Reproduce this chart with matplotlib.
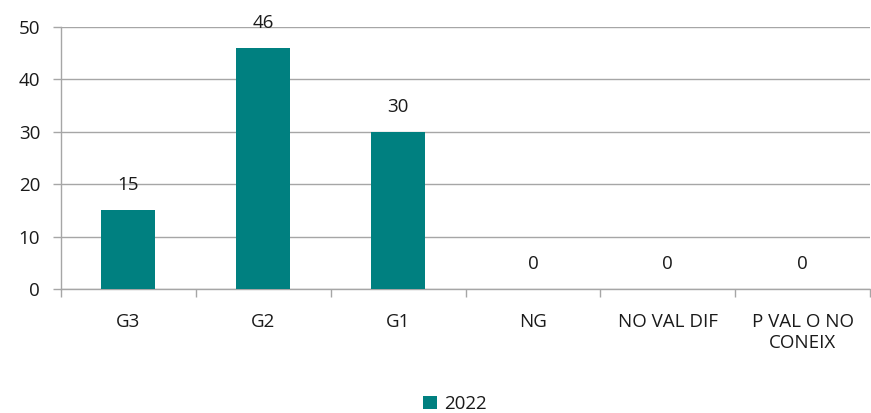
import matplotlib
matplotlib.use("Agg")
import matplotlib.pyplot as plt
import numpy as np

categories = ["G3", "G2", "G1", "NG", "NO VAL DIF", "P VAL O NO\nCONEIX"]
values_2022 = [15, 46, 30, 0, 0, 0]
series_name = "2022"

plt.rcParams['font.family'] = ['Open Sans', 'DejaVu Sans']

fig = plt.figure(figsize=(8.71, 4.13), dpi=100)
ax = fig.add_axes([61/871, 1-289/413, 809/871, (289-27)/413])

color = "#008080"
grid_c = "#a6a6a6"
txt_c = "#1a1a1a"
fs = 13.5
x = np.arange(len(categories))
bars = ax.bar(x, values_2022, width=0.4, color=color, label=series_name, zorder=3)

for xi, v in zip(x, values_2022):
    ax.annotate(str(v), (xi, v), xytext=(0, 18), textcoords="offset points",
                ha="center", va="center", fontsize=fs, color=txt_c)

ax.set_xlim(-0.5, len(categories) - 0.5)
ax.set_ylim(0, 50)
ax.set_yticks(range(0, 51, 10))
ax.yaxis.grid(True, color=grid_c, linewidth=1, zorder=0)
ax.set_axisbelow(True)

for s in ["top", "right"]:
    ax.spines[s].set_visible(False)
for s in ["left", "bottom"]:
    ax.spines[s].set_color(grid_c)
    ax.spines[s].set_linewidth(1)

ax.set_xticks(x)
ax.set_xticklabels(categories, fontsize=fs, color=txt_c, linespacing=1.25)
ax.tick_params(axis="x", which="major", length=0, pad=17)
ax.set_xticks(np.arange(-0.5, len(categories) + 0.5, 1), minor=True)
ax.tick_params(axis="x", which="minor", length=6, color=grid_c, width=1)
ax.tick_params(axis="y", length=6, color=grid_c, width=1, labelsize=fs, labelcolor=txt_c, pad=9)

leg = fig.legend(handles=[bars], labels=[series_name], loc="center",
                 bbox_to_anchor=(455/871, 1-404/413), frameon=False,
                 fontsize=fs, handlelength=0.75, handleheight=0.75, handletextpad=0.4)
for t in leg.get_texts():
    t.set_color(txt_c)

fig.savefig("out.png", dpi=100)
